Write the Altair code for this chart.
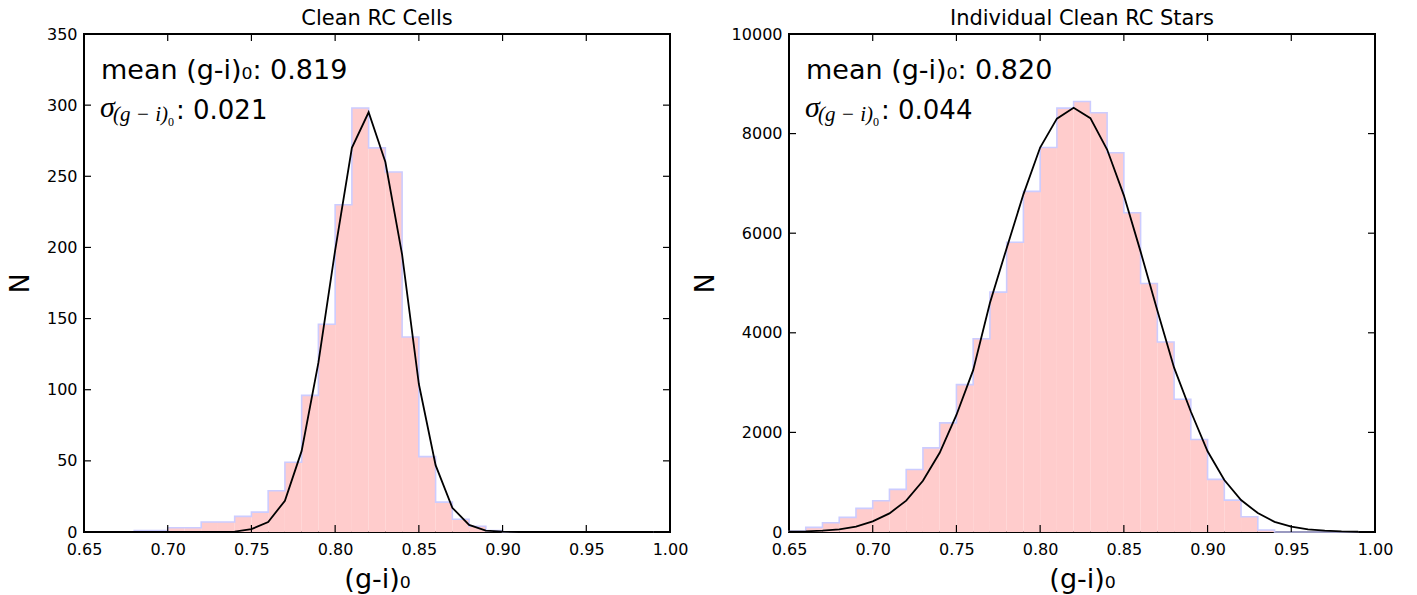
import altair as alt
import pandas as pd

# bin edges (left edges of the 34 bins plus the final right edge)
edges = [0.65, 0.66, 0.67, 0.68, 0.69, 0.70, 0.71, 0.72, 0.73, 0.74,
         0.75, 0.76, 0.77, 0.78, 0.79, 0.80, 0.81, 0.82, 0.83, 0.84,
         0.85, 0.86, 0.87, 0.88, 0.89, 0.90, 0.91, 0.92, 0.93, 0.94,
         0.95, 0.96, 0.97, 0.98, 0.99]

# Clean RC Cells histogram counts (34 bins)
cells_counts = [0, 0, 0, 1, 1, 3, 3, 7, 7, 11,
                14, 29, 49, 96, 146, 230, 298, 270, 253, 137,
                53, 21, 9, 4, 1, 0, 0, 0, 0, 0,
                0, 0, 0, 0]
# Gaussian fit curve read at the bin edges (35 points)
cells_fit = [0, 0, 0, 0, 0, 0, 0, 0, 0, 0.3,
             2, 7, 22, 57, 119, 198, 270, 295, 260, 195,
             104, 47, 17, 5, 1, 0.2, 0, 0, 0, 0,
             0, 0, 0, 0, 0]

# Individual Clean RC Stars histogram counts (34 bins)
stars_counts = [20, 93, 187, 294, 474, 628, 855, 1256, 1690, 2191,
                2959, 3880, 4816, 5818, 6840, 7722, 8511, 8644, 8420, 7615,
                6410, 4990, 3814, 2665, 1857, 1056, 641, 307, 40, 0,
                0, 0, 0, 0]
stars_fit = [5, 11, 26, 54, 108, 215, 374, 630, 1030, 1590,
             2350, 3250, 4600, 5700, 6780, 7720, 8300, 8520, 8310, 7680,
             6760, 5630, 4450, 3300, 2420, 1620, 1045, 641, 380, 205,
             108, 54, 26, 11, 5]

x_ticks = [0.65, 0.70, 0.75, 0.80, 0.85, 0.90, 0.95, 1.00]
cells_y_ticks = [0, 50, 100, 150, 200, 250, 300, 350]
stars_y_ticks = [0, 2000, 4000, 6000, 8000, 10000]

W, H = 586, 498
FILL = "#ffcccc"
EDGE = "#ccccff"


def text_layer(txt, px, py, size, font="DejaVu Sans", style="normal"):
    return alt.Chart(pd.DataFrame({"t": [txt]})).mark_text(
        align="left", baseline="alphabetic", font=font, fontSize=size,
        fontStyle=style, color="black"
    ).encode(text="t:N", x=alt.value(px), y=alt.value(py))


def panel(title, counts, fit, ymax, yticks, mean_txt, sig_txt):
    xs = alt.Scale(domain=[0.65, 1.0], nice=False, zero=False)
    ys = alt.Scale(domain=[0, ymax], nice=False, zero=True)
    X = alt.X("x:Q", scale=xs, title="(g-i)₀",
              axis=alt.Axis(values=x_ticks, format=".2f", labelFlush=False))
    Y = alt.Y("y:Q", scale=ys, title="N",
              axis=alt.Axis(values=yticks, format="d", labelFlush=False))

    fill_df = pd.DataFrame({"x": edges, "y": counts + [counts[-1]], "i": list(range(len(edges)))})
    ox = [edges[0]] + edges + [edges[-1]]
    oy = [0] + counts + [counts[-1], 0]
    out_df = pd.DataFrame({"x": ox, "y": oy, "i": list(range(len(ox)))})
    fit_df = pd.DataFrame({"x": edges, "y": fit})

    area = alt.Chart(fill_df).mark_area(
        interpolate="step-after", color=FILL, opacity=1, strokeWidth=0
    ).encode(x=X, y=Y, order="i:Q")
    outline = alt.Chart(out_df).mark_line(
        interpolate="step-after", color=EDGE, strokeWidth=1.6
    ).encode(x=X, y=Y, order="i:Q")
    fitline = alt.Chart(fit_df).mark_line(color="black", strokeWidth=1.8).encode(x=X, y=Y)
    xt = pd.DataFrame({"x": x_ticks})
    yt = pd.DataFrame({"y": yticks})
    tick_b = alt.Chart(xt).mark_rule(color="black", strokeWidth=1.2).encode(
        x=X, y=alt.value(H), y2=alt.value(H - 7))
    tick_t = alt.Chart(xt).mark_rule(color="black", strokeWidth=1.2).encode(
        x=X, y=alt.value(0), y2=alt.value(7))
    tick_l = alt.Chart(yt).mark_rule(color="black", strokeWidth=1.2).encode(
        y=Y, x=alt.value(0), x2=alt.value(7))
    tick_r = alt.Chart(yt).mark_rule(color="black", strokeWidth=1.2).encode(
        y=Y, x=alt.value(W - 7), x2=alt.value(W))

    texts = [
        text_layer(mean_txt, 17, 45, 27),
        text_layer("σ", 16, 83, 30, font="Liberation Serif", style="italic"),
        text_layer("(g − i)", 29, 87, 21, font="Liberation Serif", style="italic"),
        text_layer("0", 84, 92, 12, font="Liberation Serif"),
        text_layer(sig_txt, 92, 85, 26),
    ]

    return alt.layer(area, outline, fitline, tick_b, tick_t, tick_l, tick_r, *texts).properties(
        width=W, height=H,
        title=alt.TitleParams(title, fontSize=21, font="DejaVu Sans",
                              fontWeight="normal", color="black", offset=-3),
    )


left = panel("Clean RC Cells", cells_counts, cells_fit, 350, cells_y_ticks,
             "mean (g-i)₀: 0.819", ": 0.021")
right = panel("Individual Clean RC Stars", stars_counts, stars_fit, 10000, stars_y_ticks,
              "mean (g-i)₀: 0.820", ": 0.044")

chart = alt.hconcat(left, right, spacing=1).configure_view(
    stroke="black", strokeWidth=2
).configure_axis(
    labelFont="DejaVu Sans", labelFontSize=16, labelColor="black",
    titleFont="DejaVu Sans", titleFontSize=27, titleFontWeight="normal",
    titleColor="black", ticks=False, tickSize=0, domain=False, grid=False,
).configure_axisX(labelPadding=9, titlePadding=9).configure_axisY(
    labelPadding=7, titlePadding=12
).properties(
    padding={"left": 5, "top": 7, "right": 5, "bottom": 5}, background="white"
)

chart.save("out.html", embed_options={"renderer": "svg", "actions": False})
